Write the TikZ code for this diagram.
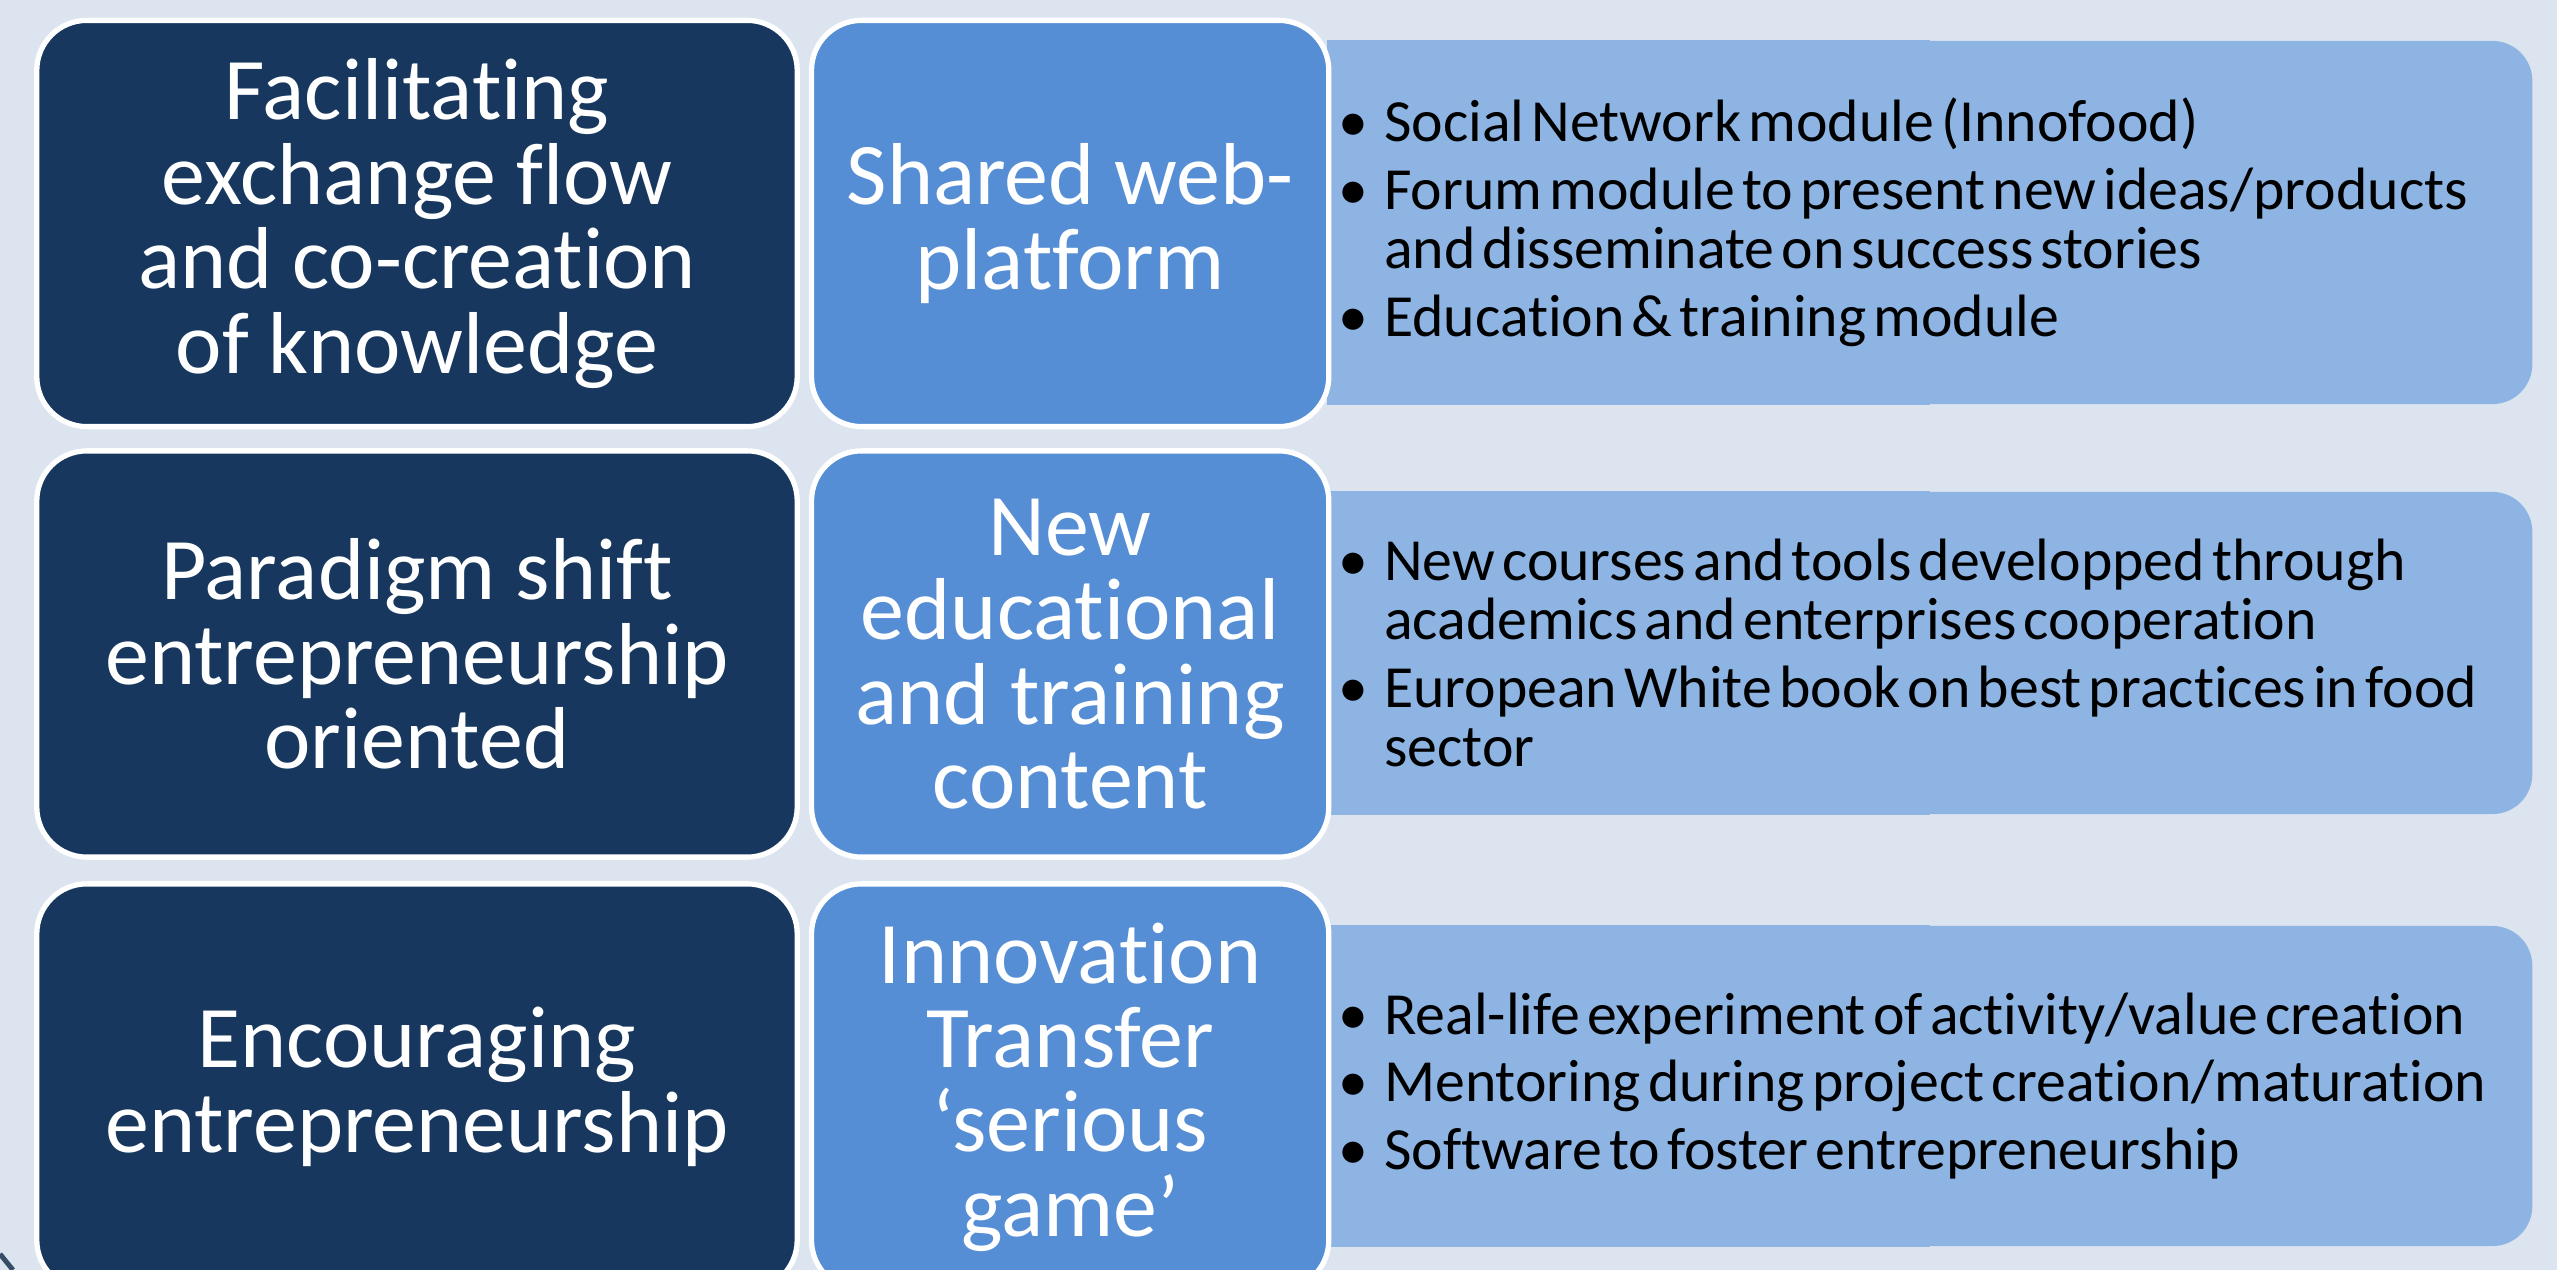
\documentclass[tikz,border=0pt]{standalone}
\usepackage{fontspec}
\setmainfont{Carlito}[Ligatures={TeX,NoCommon}]
\usepackage{xcolor}
\usetikzlibrary{positioning}

\definecolor{bgblue}{HTML}{DCE4EF}
\definecolor{navy}{HTML}{17375E}
\definecolor{midblue}{HTML}{558ED5}
\definecolor{paleblue}{HTML}{8DB4E2}
\newcommand{\bul}{\makebox[0.77em][l]{\textbullet}}
\newcommand{\ind}{\hspace*{0.77em}}
\newcommand{\tightwords}{\spaceskip=0.12em plus 0.04em minus 0.02em\relax}

\begin{document}
\begin{tikzpicture}[x=0.01cm,y=-0.01cm,node distance=0.09cm,
  goal node/.style={rectangle,rounded corners=0.5cm,fill=navy,draw=white,line width=1.5pt,
    minimum width=7.6cm,minimum height=4.06cm,text=white,align=center,
    font=\fontsize{25}{24}\selectfont},
  tool node/.style={goal node,fill=midblue,minimum width=5.17cm},
  detail box/.style={rectangle,rounded corners=0.4cm,fill=paleblue,minimum width=12.04cm},
  detail text/.style={inner sep=0pt,text width=11.8cm,align=left,text=black,
    font=\fontsize{17}{16.8}\selectfont}]

  \useasboundingbox (0,0) rectangle (2557,1270);
  \clip (0,0) rectangle (2557,1270);
  \fill[bgblue] (0,0) rectangle (2557,1270);

  \node[detail box,minimum height=3.63cm] (d1) at (1930,222.5) {};
  \node[detail box,minimum height=3.22cm] (d2) at (1930,653) {};
  \node[detail box,minimum height=3.2cm] (d3) at (1930,1086) {};
  \foreach \d in {d1,d2,d3}
    \fill[paleblue] (\d.north west) rectangle (\d.south);

  \node[goal node] (g1) at (417,223.5) {Facilitating\\exchange flow\\and co-creation\\of knowledge};
  \node[goal node] (g2) at (417,654) {Paradigm shift\\entrepreneurship\\oriented};
  \node[goal node] (g3) at (417,1087) {Encouraging\\entrepreneurship};

  \node[tool node] (t1) [right=of g1] {Shared web-\\platform};
  \node[tool node] (t2) [right=of g2] {New\\educational\\and training\\content};
  \node[tool node] (t3) [right=of g3] {Innovation\\Transfer\\`serious\\game'};

  \node[detail text] (x1) at ([xshift=-0.015cm]d1) {\tightwords\bul Social Network module (Innofood)\\[2.5pt]
    \bul Forum module to present new ideas/products\\
    \ind and disseminate on success stories\\[2.5pt]
    \bul Education \& training module};
  \node[detail text] (x2) at ([xshift=-0.015cm]d2) {\tightwords\bul New courses and tools developped through\\
    \ind academics and enterprises cooperation\\[2.5pt]
    \bul European White book on best practices in food\\
    \ind sector};
  \node[detail text] (x3) at ([xshift=-0.015cm]d3) {\tightwords\bul Real-life experiment of activity/value creation\\[2.5pt]
    \bul Mentoring during project creation/maturation\\[2.5pt]
    \bul Software to foster entrepreneurship};

  \draw[navy!70!gray,line width=1.4pt] (0,1254) -- (13,1270);
\end{tikzpicture}
\end{document}
